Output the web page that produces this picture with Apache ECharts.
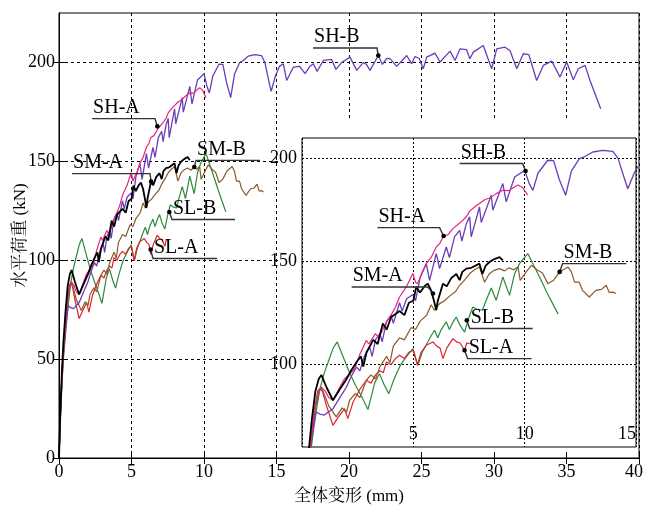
<!DOCTYPE html>
<html><head><meta charset="utf-8">
<script src="https://cdn.jsdelivr.net/npm/echarts@6/dist/echarts.min.js"></script>
<style>html,body{margin:0;padding:0;background:#fff}#c{width:645px;height:508px}</style>
</head><body><div id="c"></div>
<script>
// ---------- data (x: 全体变形 mm, y: 水平荷重 kN) ----------
const shA = [[0,0],[0.1,24],[0.2,42],[0.3,54],[0.42,64],[0.55,78],[0.71,87.5],[0.87,89],[1.05,87],[1.2,84],[1.39,82.7],[1.6,87],[1.9,93],[2.1,95],[2.36,98],[2.6,105],[2.89,111.8],[3.0,110],[3.3,115],[3.45,113],[3.79,120.7],[4.0,124],[4.2,128],[4.38,132.8],[4.7,138],[4.98,144.2],[5.1,140],[5.2,139.3],[5.4,145],[5.58,149],[5.8,152],[6.03,157.1],[6.2,159],[6.33,162],[6.55,163],[6.78,166],[7.0,168],[7.22,170],[7.4,172],[7.53,174.5],[7.8,177],[7.97,178.2],[8.2,180],[8.45,181],[8.72,183],[9.02,184.6],[9.3,184.5],[9.5,186],[9.7,187.2],[9.9,186],[10.14,182.2]];
const shB = [[0,0],[0.1,22],[0.2,40],[0.3,52],[0.45,66],[0.64,77],[0.8,76],[1.0,75.5],[1.39,78.6],[1.7,84],[1.99,89],[2.2,94],[2.44,98.8],[2.6,97],[2.8,104],[3.04,108.5],[3.15,104],[3.3,112],[3.5,115],[3.6,111],[3.79,120.7],[4.0,124],[4.1,120],[4.38,130],[4.5,126],[4.7,132],[4.98,134],[5.1,131],[5.3,142],[5.58,149],[5.73,140.9],[6.03,153.9],[6.18,146.6],[6.48,157.1],[6.62,152],[6.85,162],[7.08,165.2],[7.18,160],[7.38,168.4],[7.53,171.7],[7.6,162],[7.97,176.5],[8.05,169],[8.5,182.2],[8.57,174.9],[9.02,187.9],[9.17,179],[9.55,191.1],[10.0,194.3],[10.2,188],[10.37,184.6],[10.6,193],[11.04,199.2],[11.3,199],[11.55,190],[11.84,182.2],[12.1,194],[12.46,200],[12.7,201],[13.06,203.2],[13.5,204],[13.96,203.5],[14.2,200],[14.4,193],[14.63,185.4],[14.94,193.5],[15.2,198],[15.47,199.3],[15.7,190.9],[16.16,197.6],[16.6,198],[16.97,194.3],[17.3,198],[17.54,199.3],[17.8,195.5],[18.23,201],[18.8,201.5],[19.1,196.5],[19.5,200],[20.07,202.7],[20.53,196],[21.0,200],[21.2,199],[21.45,196],[22.02,203.5],[22.3,199],[22.6,202],[22.83,201.9],[23.29,198],[23.98,203.5],[24.32,199.3],[24.55,203],[24.85,202],[25.12,196.8],[25.36,202.7],[25.93,204.7],[26.28,200.2],[26.97,205.7],[27.31,201],[27.66,206.9],[28.1,206.5],[28.34,201.9],[28.57,205.2],[29.26,208.6],[29.84,196.8],[30.19,206.9],[30.76,207.7],[31.1,206],[31.57,196.8],[32.02,204.4],[32.4,204],[32.94,190.9],[33.4,198.5],[33.98,200.7],[34.55,192.6],[35.01,200.2],[35.47,191.3],[35.81,196.8],[36.28,198.5],[36.62,190.9],[37.36,176.6]];
const smA = [[0,0],[0.1,25],[0.2,44],[0.3,58],[0.45,74],[0.6,87],[0.75,93],[0.87,95],[1.1,89],[1.39,82.7],[1.7,88],[2.0,93],[2.2,97],[2.5,102],[2.65,104],[2.75,99],[2.9,106],[3.2,112],[3.4,110],[3.63,120],[3.8,117],[4.0,123],[4.38,126],[4.6,124],[4.8,130],[5.0,131],[5.13,137.7],[5.3,135],[5.5,138],[5.65,139.3],[5.8,136],[5.95,130],[6.03,126.4],[6.1,131],[6.33,139.3],[6.5,138],[6.7,142],[6.93,144],[7.08,141],[7.2,145],[7.38,146.6],[7.6,147],[7.97,149],[8.1,144],[8.25,148],[8.42,149.8],[8.6,151],[8.87,152.2],[9.02,150.6]];
const smB = [[0,0],[0.1,22],[0.2,40],[0.3,54],[0.45,68],[0.6,79],[0.79,88],[0.95,87],[1.2,80],[1.54,74.6],[1.8,79],[2.0,77],[2.14,82.7],[2.4,86],[2.6,84],[2.89,92.4],[3.1,95],[3.3,93],[3.5,99],[3.8,104],[3.95,101],[4.1,109],[4.38,113],[4.6,112],[4.9,118],[5.1,117],[5.3,121],[5.6,124],[5.8,129],[5.95,126.4],[6.18,129.6],[6.4,131],[6.6,133],[6.9,135.5],[7.08,138.5],[7.3,141],[7.53,144.2],[7.75,146],[7.97,147.4],[8.2,140],[8.4,144],[8.6,145.6],[8.87,146.6],[9.1,145.5],[9.3,147],[9.5,146],[9.7,147.4],[9.8,140.9],[10.07,145],[10.3,148.2],[10.55,146],[10.8,144.5],[11.04,139.3],[11.3,141],[11.57,145],[11.94,147.4],[12.1,145],[12.24,140],[12.45,140],[12.6,136],[12.9,132.8],[13.2,136],[13.45,136.5],[13.66,138.5],[13.8,135],[13.96,135.2],[14.11,134.5]];
const slA = [[0,0],[0.1,22],[0.2,38],[0.3,52],[0.45,66],[0.6,80],[0.75,87],[0.87,89],[1.1,80],[1.39,70.5],[1.6,74],[1.91,78.6],[2.06,73.8],[2.3,82],[2.6,88],[2.89,92.4],[3.1,91],[3.3,95],[3.5,97],[3.65,96],[3.79,101.3],[4.0,100],[4.2,103],[4.38,104.5],[4.6,103],[4.8,106],[5.0,107],[5.18,99.7],[5.35,106],[5.58,109.4],[5.88,111],[6.05,109],[6.2,108],[6.33,102.9],[6.5,108],[6.78,112.6],[6.95,111],[7.1,110.5],[7.3,107],[7.4,110.5],[7.53,110.2]];
const slB = [[0,0],[0.1,20],[0.2,36],[0.3,50],[0.42,60],[0.6,75],[0.8,88],[1.0,96],[1.2,102],[1.4,108],[1.58,111],[1.8,105],[2.1,97],[2.4,90],[2.7,84],[2.96,78.2],[3.1,84],[3.26,91],[3.48,95.6],[3.7,90],[3.9,85.9],[4.1,92],[4.3,97],[4.46,100.5],[4.7,104],[4.98,107.8],[5.2,99.7],[5.4,106],[5.6,110],[5.8,114],[5.95,116.7],[6.1,113],[6.25,117],[6.48,120.7],[6.62,117],[6.8,121],[6.93,123.1],[7.1,119],[7.3,115.8],[7.5,123],[7.67,128],[7.85,127],[8.1,126.4],[8.3,132],[8.5,137.2],[8.72,131.2],[9.02,142.5],[9.32,133.6],[9.55,144.2],[9.77,149],[10.14,153.9],[10.6,144],[11.0,135],[11.5,124.5]];

const seriesNames = ['SL-B','SL-A','SM-B','SH-B','SH-A','SM-A'];
const seriesData = [slB, slA, smB, shB, shA, smA];
const seriesColors = ['#2b8a3c','#e0202a','#8b5a2b','#6a3db8','#e8237f','#000000'];
const seriesWidths = [1.2,1.2,1.2,1.3,1.2,1.8];

const mainYTicks = [0,50,100,150,200];
const insetYTicks = [100,150,200];

// annotations: [label, underline x0, underline x1, underline y, dot x, dot y]
const annMain = [
  ['SH-B',17.52,21.93,207.3,22.02,203.5],
  ['SH-A',2.28,6.62,171.6,6.78,167.7],
  ['SM-A',0.9,6.28,143.8,6.35,139.8],
  ['SM-B',9.45,13.86,150.5,9.33,147.1],
  ['SL-B',7.79,12.14,120.6,7.61,124.4],
  ['SL-A',6.48,10.9,100.9,6.32,105.4]
];
const annInset = [
  ['SH-B',7.08,9.91,197.6,10.04,194],
  ['SH-A',3.39,6.18,166.5,6.36,162.4],
  ['SM-A',2.23,5.65,137.7,5.88,134.5],
  ['SM-B',11.7,14.57,149,11.57,145],
  ['SL-B',7.53,10.36,117.5,7.4,121.5],
  ['SL-A',7.44,10.31,102.9,7.3,107]
];

const SERIF = '"Liberation Serif","Times New Roman",serif';
const CJK = '"Liberation Serif","Noto Serif CJK SC","Noto Sans CJK SC",serif';

const chart = echarts.init(document.getElementById('c'), null, {renderer:'canvas'});
const mainGrid = {left:59, top:13, right:6, bottom:50, outerBoundsMode:'none', containLabel:false};
const insetGrid = {left:302, top:138, right:9, bottom:61, outerBoundsMode:'none', containLabel:false};

const series = [];
seriesData.forEach((d,i)=>{
  series.push({type:'line', name:seriesNames[i], xAxisIndex:0, yAxisIndex:0, data:d, symbol:'none', z:2,
    lineStyle:{color:seriesColors[i], width:seriesWidths[i]}, animation:false});
});
seriesData.forEach((d,i)=>{
  series.push({type:'line', name:seriesNames[i]+'_inset', xAxisIndex:1, yAxisIndex:1, data:d, symbol:'none', z:7, clip:true,
    lineStyle:{color:seriesColors[i], width:seriesWidths[i]}, animation:false});
});

const lbl = {color:'#000', fontFamily:SERIF, fontSize:18};
chart.setOption({
  backgroundColor:'#fff',
  animation:false,
  grid:[
    Object.assign({z:0}, mainGrid),
    Object.assign({z:6, show:true, borderColor:'#000', borderWidth:1, backgroundColor:'#fff'}, insetGrid),
    Object.assign({z:10, show:true, borderColor:'#000', borderWidth:1, backgroundColor:'transparent'}, mainGrid)
  ],
  xAxis:[
    {gridIndex:0, type:'value', min:0, max:40, interval:5, z:0,
      axisLine:{show:false}, axisTick:{show:false}, axisLabel:{show:false},
      splitLine:{show:true, lineStyle:{color:'#000', width:1, type:[3,3]}}},
    {gridIndex:1, type:'value', min:0, max:15, interval:5, z:6,
      axisLine:{show:false}, axisTick:{show:false},
      axisLabel:{inside:true, margin:4, showMinLabel:false, alignMaxLabel:'right', color:'#000', fontFamily:SERIF, fontSize:18},
      splitLine:{show:true, lineStyle:{color:'#000', width:1, type:[2,2]}}},
    {gridIndex:2, type:'value', min:0, max:40, interval:5, z:10, position:'bottom',
      axisLine:{show:true, lineStyle:{color:'#000', width:1}},
      axisTick:{show:true, inside:true, length:6, lineStyle:{color:'#000'}},
      axisLabel:Object.assign({margin:5, formatter:function(v){return v===40?'{r|40}':String(v);},
        rich:{r:{fontFamily:SERIF, fontSize:18, color:'#000', padding:[0,10,0,0]}}}, lbl),
      splitLine:{show:false},
      name:'全体变形 (mm)', nameLocation:'middle', nameGap:30, nameMoveOverlap:false,
      nameTextStyle:{color:'#000', fontFamily:CJK, fontSize:17}},
    {gridIndex:2, type:'value', min:0, max:40, interval:5, z:10, position:'top',
      axisLine:{show:true, lineStyle:{color:'#000', width:1}},
      axisTick:{show:true, inside:true, length:6, lineStyle:{color:'#000'}},
      axisLabel:{show:false}, splitLine:{show:false}}
  ],
  yAxis:[
    {gridIndex:0, type:'value', min:0, max:225, z:0,
      axisLine:{show:false}, axisTick:{show:false, customValues:mainYTicks}, axisLabel:{show:false, customValues:mainYTicks},
      splitLine:{show:true, lineStyle:{color:'#000', width:1, type:[3,3]}}},
    {gridIndex:1, type:'value', min:60, max:210, z:6,
      axisLine:{show:false}, axisTick:{show:false, customValues:insetYTicks},
      axisLabel:Object.assign({margin:5, customValues:insetYTicks}, lbl),
      splitLine:{show:true, lineStyle:{color:'#000', width:1, type:[2,2]}}},
    {gridIndex:2, type:'value', min:0, max:225, z:10, position:'left',
      axisLine:{show:true, lineStyle:{color:'#000', width:1}},
      axisTick:{show:true, inside:true, length:6, customValues:mainYTicks, lineStyle:{color:'#000'}},
      axisLabel:Object.assign({margin:4, customValues:mainYTicks}, lbl),
      splitLine:{show:false},
      name:'水平荷重 (kN)', nameLocation:'middle', nameGap:30, nameRotate:90, nameMoveOverlap:false,
      nameTextStyle:{color:'#000', fontFamily:CJK, fontSize:17}},
    {gridIndex:2, type:'value', min:0, max:225, z:10, position:'right',
      axisLine:{show:true, lineStyle:{color:'#000', width:1}},
      axisTick:{show:true, inside:true, length:6, customValues:mainYTicks, lineStyle:{color:'#000'}},
      axisLabel:{show:false, customValues:mainYTicks}, splitLine:{show:false}}
  ],
  series:series
});

// graphics: white backing for inset + annotations computed from data coordinates
const gfx = [];
const insetTL = chart.convertToPixel({gridIndex:1}, [0,210]);
const mainBR = chart.convertToPixel({gridIndex:0}, [40,0]);
gfx.push({type:'rect', z:5, silent:true,
  shape:{x:insetTL[0]-24, y:insetTL[1]-20, width:mainBR[0]-1-(insetTL[0]-24), height:mainBR[1]-1-(insetTL[1]-20)},
  style:{fill:'#fff'}});
function addAnn(list, gi){
  list.forEach(a=>{
    const p0 = chart.convertToPixel({gridIndex:gi}, [a[1], a[3]]);
    const p1 = chart.convertToPixel({gridIndex:gi}, [a[2], a[3]]);
    const pd = chart.convertToPixel({gridIndex:gi}, [a[4], a[5]]);
    const pts = (pd[0] < (p0[0]+p1[0])/2) ? [pd, p0, p1] : [p0, p1, pd];
    gfx.push({type:'polyline', z:20, shape:{points:pts}, style:{stroke:'#333', lineWidth:1.4, fill:null}});
    gfx.push({type:'circle', z:21, shape:{cx:pd[0], cy:pd[1], r:2.3}, style:{fill:'#000'}});
    gfx.push({type:'text', z:21, style:{text:a[0], x:p0[0]+1, y:p0[1]-1, fill:'#000',
      font:'20px "Liberation Serif","Times New Roman",serif', align:'left', verticalAlign:'bottom'}});
  });
}
addAnn(annMain, 0);
addAnn(annInset, 1);
chart.setOption({graphic:{elements:gfx}});
</script>
</body></html>
